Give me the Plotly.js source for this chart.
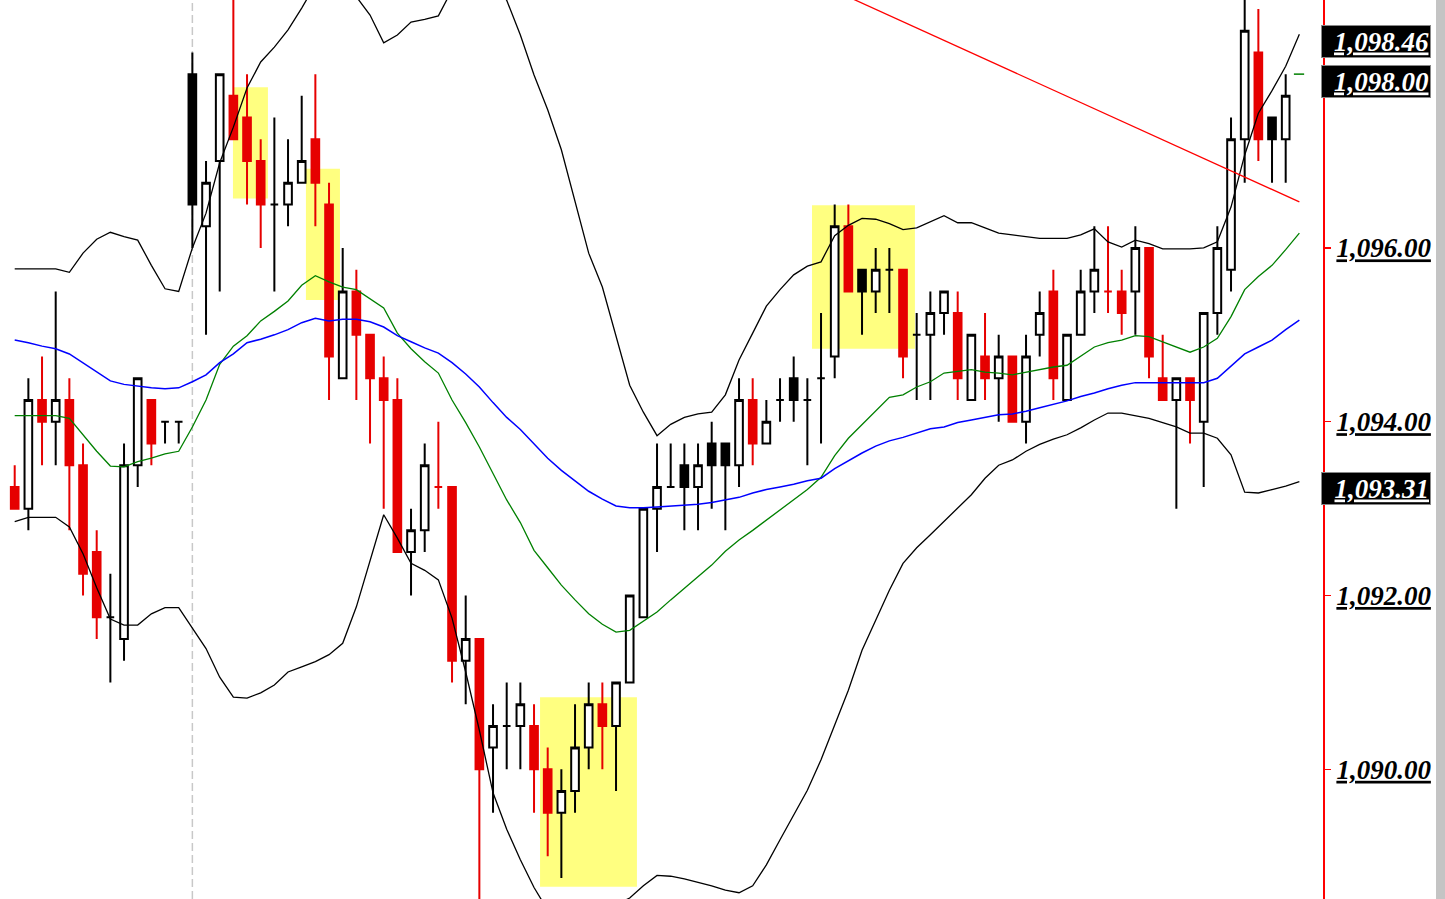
<!DOCTYPE html>
<html><head><meta charset="utf-8">
<script src="https://cdn.plot.ly/plotly-3.0.1.min.js"></script>
<style>
html,body{margin:0;padding:0;background:#fff;overflow:hidden}
#chart{width:1445px;height:899px}
</style>
</head><body><div id="chart"></div>
<script>
// ---- candle data (bar index = position in this list) ----
const opens  = [1093.25,1093.00,1094.25,1094.00,1094.25,1093.50,1092.50,1091.75,1091.50,1093.50,
                1094.25,1094.00,1094.00,1098.00,1096.25,1097.00,1097.75,1097.50,1097.00,1096.50,
                1096.50,1096.75,1097.25,1096.50,1094.50,1095.50,1095.00,1094.50,1094.25,1092.50,
                1092.75,1093.25,1093.25,1091.25,1091.50,1090.25,1090.50,1090.50,1090.50,1090.00,
                1089.50,1089.75,1090.25,1090.75,1090.50,1091.00,1091.75,1093.00,1093.25,1093.50,
                1093.25,1093.75,1093.75,1093.50,1094.25,1093.75,1094.25,1094.50,1094.25,1094.50,
                1094.75,1096.25,1095.75,1095.50,1095.75,1095.75,1095.00,1095.00,1095.25,1095.25,
                1094.25,1094.75,1094.50,1094.75,1094.00,1095.00,1095.50,1094.25,1095.00,1095.50,
                1095.50,1095.50,1095.50,1096.00,1094.50,1094.25,1094.50,1094.00,1095.25,1095.75,
                1097.25,1098.25,1097.50,1097.25];
const highs  = [1093.50,1094.50,1094.75,1095.50,1094.50,1093.75,1092.75,1092.25,1093.75,1094.50,
                1094.25,1094.00,1094.00,1098.25,1097.00,1098.00,1099.25,1098.00,1097.25,1097.50,
                1097.25,1097.75,1098.00,1096.75,1096.00,1095.75,1095.00,1094.75,1094.50,1093.00,
                1093.75,1094.00,1093.25,1092.00,1091.50,1090.75,1091.00,1091.00,1090.75,1090.25,
                1090.00,1090.75,1091.00,1091.00,1091.00,1092.00,1093.00,1093.75,1093.75,1093.75,
                1093.75,1094.00,1093.75,1094.50,1094.50,1094.25,1094.50,1094.75,1094.50,1095.25,
                1096.50,1096.50,1095.75,1096.00,1096.00,1095.75,1095.25,1095.50,1095.50,1095.50,
                1095.00,1095.25,1095.00,1094.75,1095.00,1095.50,1095.75,1095.00,1095.75,1096.25,
                1096.25,1095.75,1096.25,1096.00,1095.00,1094.50,1094.50,1095.25,1096.25,1097.50,
                1099.25,1098.75,1097.50,1098.00];
const lows   = [1093.00,1092.75,1093.50,1093.50,1092.75,1092.00,1091.50,1091.00,1091.25,1093.25,
                1093.50,1093.75,1093.75,1096.00,1095.00,1095.50,1097.25,1096.50,1096.00,1095.50,
                1096.25,1096.75,1096.25,1094.25,1094.50,1094.25,1093.75,1093.00,1092.50,1092.00,
                1092.50,1093.00,1091.00,1090.75,1088.25,1089.50,1090.00,1090.00,1089.50,1089.00,
                1088.75,1089.50,1090.00,1090.00,1089.75,1091.00,1091.75,1092.50,1093.25,1092.75,
                1092.75,1093.00,1092.75,1093.25,1093.50,1093.75,1094.00,1094.00,1093.50,1093.75,
                1094.50,1095.50,1095.00,1095.25,1095.25,1094.50,1094.25,1094.25,1095.00,1094.25,
                1094.25,1094.25,1094.00,1094.00,1093.75,1094.75,1094.25,1094.25,1095.00,1095.25,
                1095.25,1095.00,1095.00,1094.50,1094.25,1093.00,1093.75,1093.25,1095.00,1095.50,
                1096.75,1097.00,1096.75,1096.75];
const closes = [1093.00,1094.25,1094.00,1094.25,1093.50,1092.25,1091.75,1091.75,1093.50,1094.50,
                1093.75,1094.00,1094.00,1096.50,1096.75,1098.00,1097.25,1097.00,1096.50,1096.50,
                1096.75,1097.00,1096.75,1094.75,1095.50,1095.00,1094.50,1094.25,1092.50,1092.75,
                1093.50,1093.25,1091.25,1091.50,1090.00,1090.50,1090.50,1090.75,1090.00,1089.50,
                1089.75,1090.25,1090.75,1090.50,1091.00,1092.00,1093.00,1093.25,1093.25,1093.25,
                1093.50,1093.50,1093.50,1094.25,1093.75,1094.00,1094.25,1094.25,1094.25,1094.50,
                1096.25,1095.50,1095.50,1095.75,1095.75,1094.75,1095.00,1095.25,1095.50,1094.50,
                1095.00,1094.50,1094.75,1094.00,1094.75,1095.25,1094.50,1095.00,1095.50,1095.75,
                1095.50,1095.25,1096.00,1094.75,1094.25,1094.50,1094.25,1095.25,1096.00,1097.25,
                1098.50,1097.25,1097.25,1097.75];

// ---- indicator lines (one value per bar, plus one step ahead) ----
const upperBand = [1095.76,1095.76,1095.76,1095.76,1095.72,1095.94,1096.10,1096.18,1096.13,1096.09,
                   1095.80,1095.53,1095.50,1096.00,1096.40,1096.98,1097.39,1097.84,1098.14,1098.31,
                   1098.51,1098.76,1099.03,1099.14,1099.06,1098.89,1098.68,1098.36,1098.45,1098.60,
                   1098.63,1098.67,1098.97,1099.20,1099.26,1099.08,1098.85,1098.45,1097.99,1097.59,
                   1097.13,1096.55,1095.94,1095.55,1095.00,1094.42,1094.11,1093.84,1093.97,1094.05,
                   1094.09,1094.11,1094.31,1094.71,1095.02,1095.33,1095.52,1095.69,1095.79,1095.84,
                   1096.14,1096.26,1096.34,1096.33,1096.28,1096.21,1096.23,1096.30,1096.37,1096.29,
                   1096.29,1096.23,1096.17,1096.15,1096.13,1096.11,1096.11,1096.11,1096.15,1096.22,
                   1096.07,1096.01,1096.09,1096.05,1095.99,1095.99,1095.99,1096.00,1096.07,1096.47,
                   1097.07,1097.55,1097.81,1098.09,1098.46];
const lowerBand = [1092.85,1092.90,1092.90,1092.90,1092.79,1092.48,1092.09,1091.73,1091.66,1091.66,
                   1091.79,1091.86,1091.86,1091.63,1091.39,1091.06,1090.83,1090.82,1090.88,1090.97,
                   1091.12,1091.18,1091.24,1091.32,1091.45,1091.87,1092.39,1092.93,1092.66,1092.37,
                   1092.29,1092.18,1091.74,1091.12,1090.45,1089.73,1089.31,1088.96,1088.64,1088.38,
                   1088.21,1088.15,1088.21,1088.32,1088.44,1088.52,1088.66,1088.78,1088.77,1088.74,
                   1088.70,1088.66,1088.61,1088.58,1088.66,1088.90,1089.19,1089.48,1089.76,1090.11,
                   1090.51,1090.91,1091.37,1091.72,1092.06,1092.37,1092.55,1092.70,1092.85,1093.01,
                   1093.16,1093.35,1093.50,1093.56,1093.66,1093.74,1093.80,1093.85,1093.93,1094.02,
                   1094.10,1094.10,1094.07,1094.04,1093.99,1093.94,1093.87,1093.87,1093.81,1093.62,
                   1093.19,1093.18,1093.22,1093.26,1093.31];
const fastMA    = [1094.07,1094.07,1094.07,1094.07,1094.04,1093.85,1093.66,1093.49,1093.48,1093.54,
                   1093.58,1093.63,1093.66,1093.94,1094.25,1094.66,1094.87,1094.99,1095.16,1095.27,
                   1095.39,1095.57,1095.68,1095.61,1095.55,1095.52,1095.42,1095.31,1095.02,1094.84,
                   1094.69,1094.56,1094.25,1093.99,1093.71,1093.41,1093.10,1092.84,1092.52,1092.32,
                   1092.12,1091.95,1091.79,1091.67,1091.58,1091.60,1091.71,1091.81,1091.95,1092.08,
                   1092.21,1092.35,1092.51,1092.64,1092.75,1092.87,1092.98,1093.10,1093.22,1093.36,
                   1093.61,1093.81,1093.97,1094.12,1094.28,1094.31,1094.40,1094.46,1094.56,1094.58,
                   1094.60,1094.57,1094.56,1094.54,1094.57,1094.60,1094.63,1094.65,1094.76,1094.86,
                   1094.91,1094.94,1094.99,1094.98,1094.92,1094.86,1094.80,1094.86,1094.96,1095.21,
                   1095.52,1095.67,1095.80,1095.98,1096.17];
const slowMA    = [1094.94,1094.91,1094.87,1094.84,1094.78,1094.68,1094.58,1094.47,1094.43,1094.41,
                   1094.39,1094.38,1094.39,1094.46,1094.54,1094.68,1094.78,1094.91,1094.95,1095.00,
                   1095.06,1095.14,1095.19,1095.16,1095.18,1095.18,1095.15,1095.09,1094.99,1094.92,
                   1094.85,1094.79,1094.68,1094.55,1094.40,1094.22,1094.05,1093.91,1093.74,1093.58,
                   1093.44,1093.32,1093.20,1093.11,1093.03,1093.01,1093.01,1093.02,1093.03,1093.04,
                   1093.05,1093.07,1093.10,1093.13,1093.18,1093.22,1093.25,1093.28,1093.32,1093.35,
                   1093.46,1093.55,1093.64,1093.72,1093.78,1093.82,1093.87,1093.92,1093.94,1093.99,
                   1094.02,1094.05,1094.08,1094.09,1094.12,1094.16,1094.20,1094.24,1094.29,1094.33,
                   1094.38,1094.42,1094.45,1094.45,1094.45,1094.45,1094.45,1094.45,1094.50,1094.64,
                   1094.78,1094.86,1094.94,1095.06,1095.17];

// ---- trendline (bar index, price) ----
const trendX = [60, 94];
const trendY = [1098.96, 1096.53];

// ---- highlighted zones (bar index span, price span) ----
const zoneStart  = [15.97, 21.31, 38.44, 58.34];
const zoneEnd    = [18.53, 23.80, 45.53, 65.87];
const zoneTop    = [1097.85, 1096.91, 1090.83, 1096.49];
const zoneBottom = [1096.57, 1095.40, 1088.65, 1094.84];

// ---- session separator (bar index) ----
const separatorBars = [13];

// ---- price axis ----
const tickValues = [1090, 1092, 1094, 1096];
const tickLabels = ['1,090.00', '1,092.00', '1,094.00', '1,096.00'];
const markerLevels = [1098.46, 1098.00, 1093.31];
const markerLabels = ['1,098.46', '1,098.00', '1,093.31'];
const lastPrice = 1098.00;

// ---------------------------------------------------------------
const bars = opens.map((_, i) => i);
const lineBars = upperBand.map((_, i) => i);

const RED = '#e60000';
const groupStyle = {
  hollowBlack: {line: '#000000', fill: '#ffffff'},
  filledBlack: {line: '#000000', fill: '#000000'},
  filledRed:   {line: RED, fill: RED},
  hollowRed:   {line: RED, fill: '#ffffff'}
};
const groups = {hollowBlack: [], filledBlack: [], filledRed: [], hollowRed: []};
bars.forEach(i => {
  const prev = i > 0 ? closes[i - 1] : opens[i];
  const filled = closes[i] < opens[i];
  const red = closes[i] < prev;
  const key = (filled ? 'filled' : 'hollow') + (red ? 'Red' : 'Black');
  groups[key].push(i);
});

const traces = [];
function lineTrace(y, color, width) {
  return {type: 'scatter', mode: 'lines', x: lineBars, y: y,
          line: {color: color, width: width}, hoverinfo: 'skip'};
}
traces.push(lineTrace(upperBand, '#000000', 1.3));
traces.push(lineTrace(lowerBand, '#000000', 1.3));
traces.push(lineTrace(fastMA, '#008000', 1.3));
traces.push(lineTrace(slowMA, '#0000ff', 1.5));
traces.push({type: 'scatter', mode: 'lines', x: trendX, y: trendY,
             line: {color: '#ff0000', width: 1.3}, hoverinfo: 'skip'});
traces.push({type: 'scatter', mode: 'lines', x: [93.6, 94.35], y: [lastPrice, lastPrice],
             line: {color: '#008000', width: 1.5}, hoverinfo: 'skip'});

Object.keys(groups).forEach(k => {
  const idx = groups[k];
  if (!idx.length) return;
  const st = groupStyle[k];
  const side = {line: {color: st.line, width: 2}, fillcolor: st.fill};
  traces.push({
    type: 'candlestick',
    x: idx,
    open: idx.map(i => opens[i]),
    high: idx.map(i => highs[i]),
    low: idx.map(i => lows[i]),
    close: idx.map(i => closes[i]),
    increasing: side, decreasing: side,
    whiskerwidth: 0,
    hoverinfo: 'skip'
  });
});

const shapes = [];
zoneStart.forEach((x0, k) => {
  shapes.push({type: 'rect', xref: 'x', yref: 'y', layer: 'below',
    x0: x0, x1: zoneEnd[k], y0: zoneBottom[k], y1: zoneTop[k],
    fillcolor: '#ffff80', line: {width: 0}});
});
separatorBars.forEach(b => {
  shapes.push({type: 'line', xref: 'x', yref: 'paper', layer: 'below',
    x0: b, x1: b, y0: 0, y1: 1, line: {color: '#c8c8c8', width: 1.5, dash: '8px,4px'}});
});
// window frame strip along the right edge
shapes.push({type: 'rect', xref: 'paper', yref: 'paper', layer: 'above',
  x0: 1436/1323, x1: 1445/1323, y0: 0, y1: 1,
  fillcolor: '#c4c4c4', line: {width: 0}});

const labelFont = {family: 'Liberation Serif', size: 27, color: '#000000', weight: 'bold', style: 'italic'};
const u = t => '<b><i><span style="text-decoration:underline">' + t + '</span></i></b>';

const annotations = markerLevels.map((lv, k) => ({
  xref: 'paper', yref: 'y', x: 1, y: lv, xanchor: 'left', yanchor: 'middle',
  xshift: -2, yshift: -7, showarrow: false, text: u(markerLabels[k]),
  font: Object.assign({}, labelFont, {color: '#ffffff'}),
  bgcolor: '#000000', bordercolor: '#888888', borderwidth: 1, borderpad: 1,
  width: 106, height: 29, align: 'right'
}));

const layout = {
  width: 1445, height: 899,
  margin: {l: 0, r: 122, t: 0, b: 0, pad: 0},
  paper_bgcolor: '#ffffff', plot_bgcolor: '#ffffff',
  showlegend: false,
  boxmode: 'overlay', boxgap: 0.2, boxgroupgap: 0.3,
  xaxis: {range: [-1.0756, 95.73], visible: false, fixedrange: true,
          rangeslider: {visible: false}, showgrid: false, zeroline: false},
  yaxis: {side: 'right', range: [1088.508, 1098.853], fixedrange: true,
          tickvals: tickValues, ticktext: tickLabels.map(u),
          showgrid: false, zeroline: false, showline: true, linecolor: '#ff0000', linewidth: 2,
          ticks: 'outside', ticklen: 6, tickwidth: 1.5, tickcolor: '#ff0000',
          tickfont: labelFont},
  shapes: shapes,
  annotations: annotations,
  hovermode: false
};

Plotly.newPlot('chart', traces, layout, {displayModeBar: false, staticPlot: true});
</script>
</body></html>
